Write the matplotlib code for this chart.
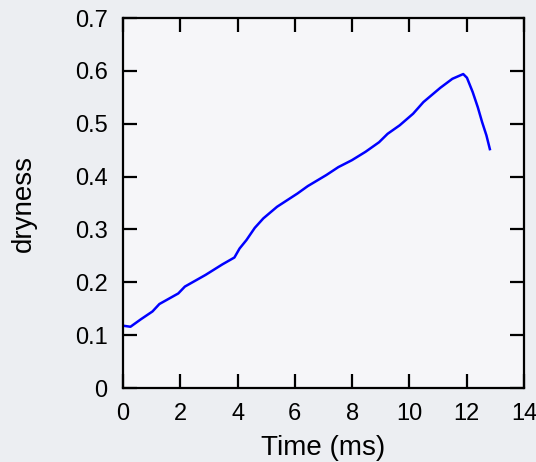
import numpy as np
import matplotlib.pyplot as plt

# dryness vs time
time_ms = [0.0, 0.26, 0.62, 1.03, 1.27, 1.93, 2.16, 2.88, 3.47, 3.89, 4.07, 4.31,
           4.60, 4.90, 5.38, 6.09, 6.45, 7.10, 7.52, 7.99, 8.47, 8.94, 9.24, 9.66,
           10.13, 10.49, 11.08, 11.50, 11.88, 12.01, 12.21, 12.39, 12.54, 12.69, 12.81]
dryness = [0.118, 0.116, 0.130, 0.145, 0.159, 0.179, 0.192, 0.214, 0.234, 0.247, 0.264, 0.280,
           0.303, 0.321, 0.343, 0.368, 0.382, 0.403, 0.418, 0.431, 0.447, 0.465, 0.481, 0.497,
           0.519, 0.541, 0.568, 0.585, 0.594, 0.587, 0.560, 0.531, 0.503, 0.478, 0.452]

x_ticks = [0, 2, 4, 6, 8, 10, 12, 14]
y_ticks = [0, 0.1, 0.2, 0.3, 0.4, 0.5, 0.6, 0.7]

plt.rcParams['font.family'] = ['Liberation Sans', 'DejaVu Sans']

fig = plt.figure(figsize=(5.36, 4.62), dpi=100, facecolor='#eceef2')
# axes box: 123..524 px across, 18..388 px down
ax = fig.add_axes([0.2295, 0.160, 0.748, 0.801])
ax.set_facecolor('#f6f6f9')

ax.plot(time_ms, dryness, color='#0000ff', linewidth=1.8)

ax.set_xlim(0, 14)
ax.set_ylim(0, 0.7)
ax.set_xticks(x_ticks)
ax.set_yticks(y_ticks)
ax.set_xticklabels([str(t) for t in x_ticks])
ax.set_yticklabels(['0' if v == 0 else '%.1f' % v for v in y_ticks])

for s in ax.spines.values():
    s.set_linewidth(1.6)
ax.tick_params(direction='in', length=10, width=1.6, top=True, right=True,
               labelsize=17)
ax.tick_params(axis='x', pad=11)
ax.tick_params(axis='y', pad=11)

ax.set_xlabel('Time (ms)', fontsize=20, labelpad=7)
ax.set_ylabel('dryness', fontsize=20, labelpad=27)

fig.savefig('out.png', dpi=100, facecolor=fig.get_facecolor())
